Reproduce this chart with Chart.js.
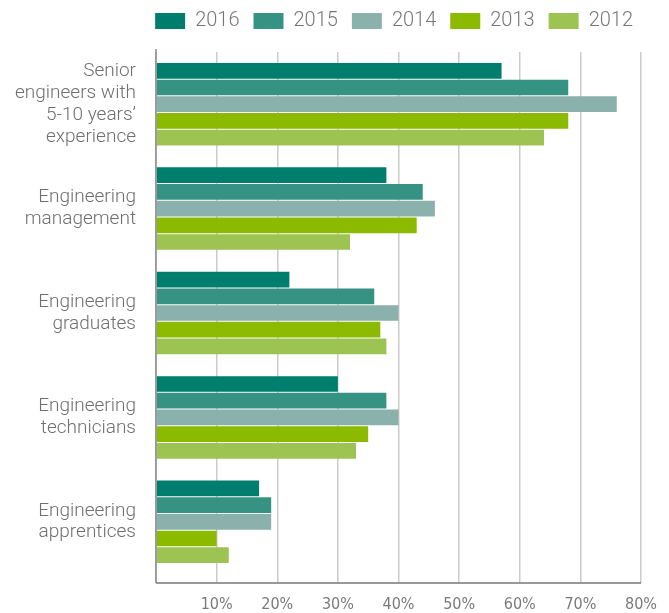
<!DOCTYPE html>
<html>
<head>
<meta charset="utf-8">
<script src="https://cdn.jsdelivr.net/npm/chart.js@4.4.1/dist/chart.umd.min.js"></script>
<style>
  html, body { margin: 0; padding: 0; background: #fff; }
  #wrap { width: 669px; height: 613px; position: relative; }
</style>
</head>
<body>
<div id="wrap"><canvas id="chart"></canvas></div>
<script>
// categories and series
const categories = [
  ["Senior", "engineers with", "5-10 years\u2019", "experience"],
  ["Engineering", "management"],
  ["Engineering", "graduates"],
  ["Engineering", "technicians"],
  ["Engineering", "apprentices"]
];
const years = ["2016", "2015", "2014", "2013", "2012"];
const values2016 = [57, 38, 22, 30, 17];
const values2015 = [68, 44, 36, 38, 19];
const values2014 = [76, 46, 40, 40, 19];
const values2013 = [68, 43, 37, 35, 10];
const values2012 = [64, 32, 38, 33, 12];
const colors = ["#007e6d", "#369283", "#8bb1ad", "#8cba00", "#9dc353"];
const xTicks = [0, 10, 20, 30, 40, 50, 60, 70, 80];

const allValues = [values2016, values2015, values2014, values2013, values2012];

// extra room under the legend
const legendGap = {
  id: "legendGap",
  beforeInit(chart) {
    const fit = chart.legend.fit;
    chart.legend.fit = function () {
      fit.bind(chart.legend)();
      this.height += 11;
    };
  }
};

// axis lines sit a bit below the plot, like the original
const axisLines = {
  id: "axisLines",
  afterDraw(chart) {
    const { ctx, chartArea } = chart;
    const bottom = chartArea.bottom + 9;
    ctx.save();
    ctx.lineWidth = 1.5;
    ctx.strokeStyle = "#8a8a8a";
    ctx.beginPath();
    ctx.moveTo(chartArea.left, chartArea.top - 3);
    ctx.lineTo(chartArea.left, bottom);
    ctx.stroke();
    ctx.strokeStyle = "#777";
    ctx.beginPath();
    ctx.moveTo(chartArea.left, bottom);
    ctx.lineTo(chartArea.right, bottom);
    ctx.stroke();
    ctx.restore();
  }
};

new Chart(document.getElementById("chart"), {
  type: "bar",
  data: {
    labels: categories,
    datasets: years.map((y, i) => ({
      label: y,
      data: allValues[i],
      backgroundColor: colors[i],
      categoryPercentage: 0.8,
      barPercentage: 0.94
    }))
  },
  options: {
    indexAxis: "y",
    responsive: true,
    maintainAspectRatio: false,
    animation: false,
    layout: { padding: { left: 0, right: 22, top: -3, bottom: 0 } },
    plugins: {
      tooltip: { enabled: false },
      legend: {
        position: "top",
        align: "end",
        labels: {
          boxWidth: 30,
          boxHeight: 16,
          padding: 14,
          color: "#777",
          font: { family: "Roboto", size: 20, weight: 300 }
        }
      }
    },
    scales: {
      x: {
        min: 0,
        max: 80,
        z: 1,
        afterBuildTicks(scale) {
          scale.ticks = xTicks.map(v => ({ value: v }));
        },
        afterFit(scale) { scale.height = 39; },
        border: { display: false },
        grid: {
          color: "rgba(70,70,70,0.28)",
          lineWidth: 1.5,
          tickLength: 9
        },
        ticks: {
          padding: 12,
          maxRotation: 0,
          color: "#7a7a7a",
          font: { family: "'DejaVu Sans', sans-serif", size: 16, weight: "400 condensed" },
          callback: v => (v === 0 ? "" : v + "%")
        }
      },
      y: {
        afterFit(scale) {
          scale.width = 156;
          scale.paddingTop = 0;
          scale.paddingBottom = 0;
        },
        border: { display: false },
        grid: { display: false, drawTicks: false },
        ticks: {
          padding: 20,
          color: "#6f6f6f",
          font: { family: "Roboto", size: 19, weight: 300, lineHeight: 1.15 }
        }
      }
    }
  },
  plugins: [legendGap, axisLines]
});
</script>
</body>
</html>
